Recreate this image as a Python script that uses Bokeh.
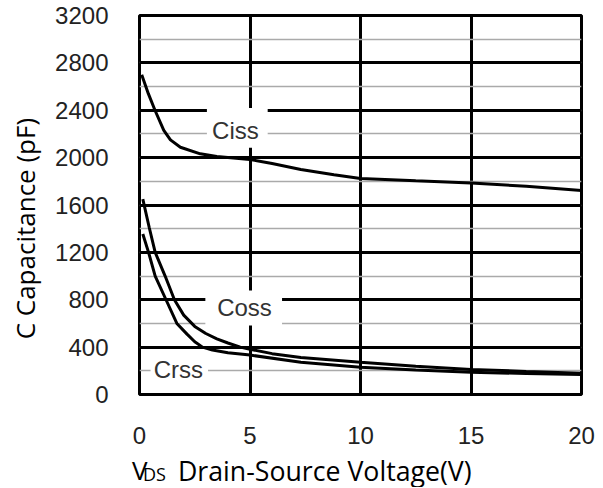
from bokeh.plotting import figure
from bokeh.layouts import column
from bokeh.models import Range1d, SingleIntervalTicker, FixedTicker, ColumnDataSource
from bokeh.core.properties import value
from bokeh.embed import file_html
from bokeh.resources import INLINE

# ---- data ----
ciss_v = [0.1, 0.4, 0.7, 1.1, 1.4, 1.85, 2.75, 3.5, 5.0, 6.0, 7.3, 8.8, 10.0, 12.5, 15.0, 17.5, 20.0]
ciss_c = [2700, 2540, 2400, 2230, 2150, 2088, 2032, 2010, 1985, 1950, 1900, 1855, 1824, 1804, 1785, 1758, 1722]

coss_v = [0.15, 0.44, 0.71, 1.16, 1.58, 2.0, 2.5, 3.0, 3.5, 4.0, 4.56, 5.0, 6.0, 7.3, 10.0, 12.5, 15.0, 17.5, 20.0]
coss_c = [1650, 1410, 1200, 1000, 800, 670, 575, 515, 470, 435, 400, 382, 345, 312, 273, 238, 211, 195, 180]

crss_v = [0.15, 0.41, 0.71, 1.2, 1.69, 2.15, 2.5, 2.85, 3.3, 4.0, 5.0, 7.3, 10.0, 12.5, 15.0, 17.5, 20.0]
crss_c = [1355, 1200, 1000, 800, 600, 510, 445, 400, 375, 352, 333, 272, 231, 207, 188, 177, 168]

curve_names = ["Ciss", "Coss", "Crss"]
label_x = [4.34, 4.75, 1.76]
label_y = [2229, 737, 211]
box_left = [3.05, 2.98, 0.5]
box_right = [5.8, 6.45, 3.1]
box_bottom = [2083, 583, 80]
box_top = [2420, 878, 330]

y_title = "C Capacitance (pF)"
x_title_main = "V"
x_title_sub = "DS"
x_title_rest = "Drain-Source Voltage(V)"

x_ticks_interval = 5
y_ticks_interval = 400
x_max = 20
y_max = 3200

# ---- main figure ----
W = 600
FL, FR = 139, 581          # frame left / right (px)
p = figure(width=W, height=450, output_backend="svg", toolbar_location=None,
           x_range=Range1d(0, x_max), y_range=Range1d(0, y_max),
           min_border_left=FL, min_border_right=W - FR, min_border_top=15, min_border_bottom=56)
p.background_fill_color = "white"
p.border_fill_color = "white"
p.outline_line_color = "black"
p.outline_line_width = 3

p.xaxis.ticker = SingleIntervalTicker(interval=x_ticks_interval, num_minor_ticks=0)
p.yaxis.ticker = SingleIntervalTicker(interval=y_ticks_interval, num_minor_ticks=2)

for ax in (p.xaxis, p.yaxis):
    ax.axis_line_color = None
    ax.major_tick_line_color = None
    ax.minor_tick_line_color = None
    ax.major_label_text_font = "Liberation Sans"
    ax.major_label_text_color = "#222222"
p.yaxis.major_label_text_font_size = "24px"
p.xaxis.major_label_text_font_size = "24px"
p.yaxis.major_label_standoff = 25
p.xaxis.major_label_standoff = 26

p.yaxis.axis_label = y_title + "\u00a0" * 7
p.yaxis.axis_label_text_font = "Open Sans"
p.yaxis.axis_label_text_font_size = "26px"
p.yaxis.axis_label_text_font_style = "normal"
p.yaxis.axis_label_text_color = "black"
p.yaxis.axis_label_standoff = 9

p.xgrid.grid_line_color = "black"
p.xgrid.grid_line_width = 3
p.ygrid.grid_line_color = "black"
p.ygrid.grid_line_width = 3
p.ygrid.minor_grid_line_color = "#aaaaaa"
p.ygrid.minor_grid_line_width = 1.5

# white label boxes (interrupt grid)
p.quad(left=box_left, right=box_right, bottom=box_bottom, top=box_top,
       fill_color="white", line_color=None)

# curves
for xs, ys in ((ciss_v, ciss_c), (coss_v, coss_c), (crss_v, crss_c)):
    p.line(xs, ys, line_color="black", line_width=3)

# curve labels
src = ColumnDataSource(dict(x=label_x, y=label_y, t=curve_names))
p.text(x="x", y="y", text="t", source=src, text_align="center", text_baseline="middle",
       text_font=value("Liberation Sans"), text_font_size="24px", text_color="#333333")

# ---- x-axis title strip (with subscript); coordinates in page pixels ----
TOP, BOT = 450, 487
t = figure(width=W, height=BOT - TOP, output_backend="svg", toolbar_location=None,
           x_range=Range1d(FL, FR), y_range=Range1d(BOT, TOP),
           min_border_left=FL, min_border_right=W - FR, min_border_top=0, min_border_bottom=0)
t.xaxis.visible = False
t.grid.visible = False
t.outline_line_color = None
t.background_fill_color = "white"
t.border_fill_color = "white"
# the big "V" sits partly left of the frame: draw it as the strip's only y tick label
t.yaxis.ticker = FixedTicker(ticks=[467])
t.yaxis.major_label_overrides = {467: x_title_main}
t.yaxis.major_label_text_font = "Open Sans"
t.yaxis.major_label_text_font_size = "26px"
t.yaxis.major_label_text_color = "black"
t.yaxis.major_label_standoff = -8
t.yaxis.axis_line_color = None
t.yaxis.major_tick_line_color = None
t.yaxis.minor_tick_line_color = None
t.yaxis.major_tick_out = 0
t.yaxis.major_tick_in = 0

tsrc = ColumnDataSource(dict(x=[142.5, 177.5], y=[473.0, 469.5], txt=[x_title_sub, x_title_rest],
                             size=["18px", "26.7px"]))
t.text(x="x", y="y", text="txt", source=tsrc, text_align="left", text_baseline="alphabetic",
       text_font=value("Open Sans"), text_font_size="size", text_color="black")

layout = column(p, t, spacing=0)
open("out.html", "w").write(file_html(layout, INLINE))
